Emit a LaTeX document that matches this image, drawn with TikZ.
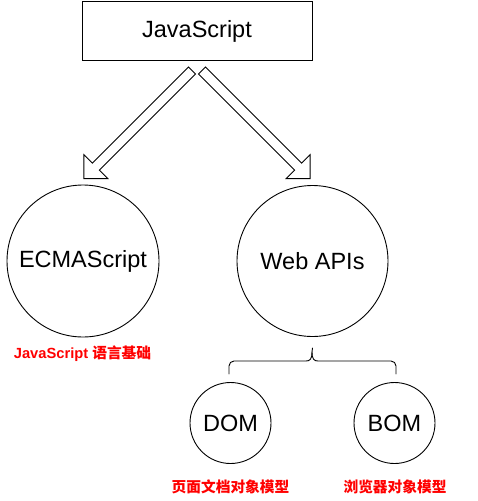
\documentclass[tikz,border=0pt]{standalone}
\usepackage{fontspec}
\setmainfont{Liberation Sans}
\newfontfamily\cjk{Noto Sans CJK SC}
\usetikzlibrary{calc}
\definecolor{lblred}{HTML}{FF0000}
\tikzset{
  every picture/.style={x=1pt,y=1pt},
  bigtext/.style={font=\fontsize{23.5}{26}\selectfont},
  circ/.style={draw=black, line width=0.9pt, circle, inner sep=0pt, bigtext},
  lbl/.style={text=lblred, font=\fontsize{14.7}{17}\selectfont\bfseries},
  blockarrow/.style={draw=black, line width=0.9pt, fill=white, line join=miter},
  bracestyle/.style={line width=0.9pt, line cap=round},
}
\begin{document}
\begin{tikzpicture}
\useasboundingbox (0,0) rectangle (478,-501);
\node[draw, line width=1pt, minimum width=230pt, minimum height=59pt, inner sep=0pt, bigtext] (js) at (197,-31) {JavaScript};
\node[circ, minimum size=152pt] (ecma) at (83,-261) {ECMAScript};
\node[circ, minimum size=151pt] (web) at (312.5,-261) {Web APIs};
\node[circ, minimum size=81pt] (dom) at (230.5,-423) {DOM};
\node[circ, minimum size=81pt] (bom) at (394.5,-423) {BOM};
\node[lbl] (ecmalbl) at (82.5,-354) {JavaScript {\cjk\bfseries 语言基础}};
\node[lbl] (domlbl) at (230.5,-487) {\cjk\bfseries 页面文档对象模型};
\node[lbl] (bomlbl) at (395,-487) {\cjk\bfseries 浏览器对象模型};
% block arrows
\coordinate (la) at ($(js.south)+(-5,-9.5)$);
\coordinate (ra) at ($(js.south)+(5,-9.5)$);
\begin{scope}[shift={(la)}, rotate=-135]
\draw[blockarrow] (0,-5) -- (136,-5) -- (136,-17) -- (153,0) -- (136,17) -- (136,5) -- (0,5) -- cycle;
\end{scope}
\begin{scope}[shift={(ra)}, rotate=-45]
\draw[blockarrow] (0,-5) -- (136,-5) -- (136,-17) -- (153,0) -- (136,17) -- (136,5) -- (0,5) -- cycle;
\end{scope}
% brace
\coordinate (btip) at (web.south |- 0,-348);
\draw[bracestyle]
  (229,-374) -- (229,-366) to[out=90,in=180] (234,-361) -- (306,-361)
  .. controls (310,-361) and (312,-359) .. (312,-352) -- (btip);
\draw[bracestyle]
  (396,-374) -- (396,-366) to[out=90,in=0] (391,-361) -- (318,-361)
  .. controls (314,-361) and (312,-359) .. (312,-352);
\end{tikzpicture}
\end{document}
